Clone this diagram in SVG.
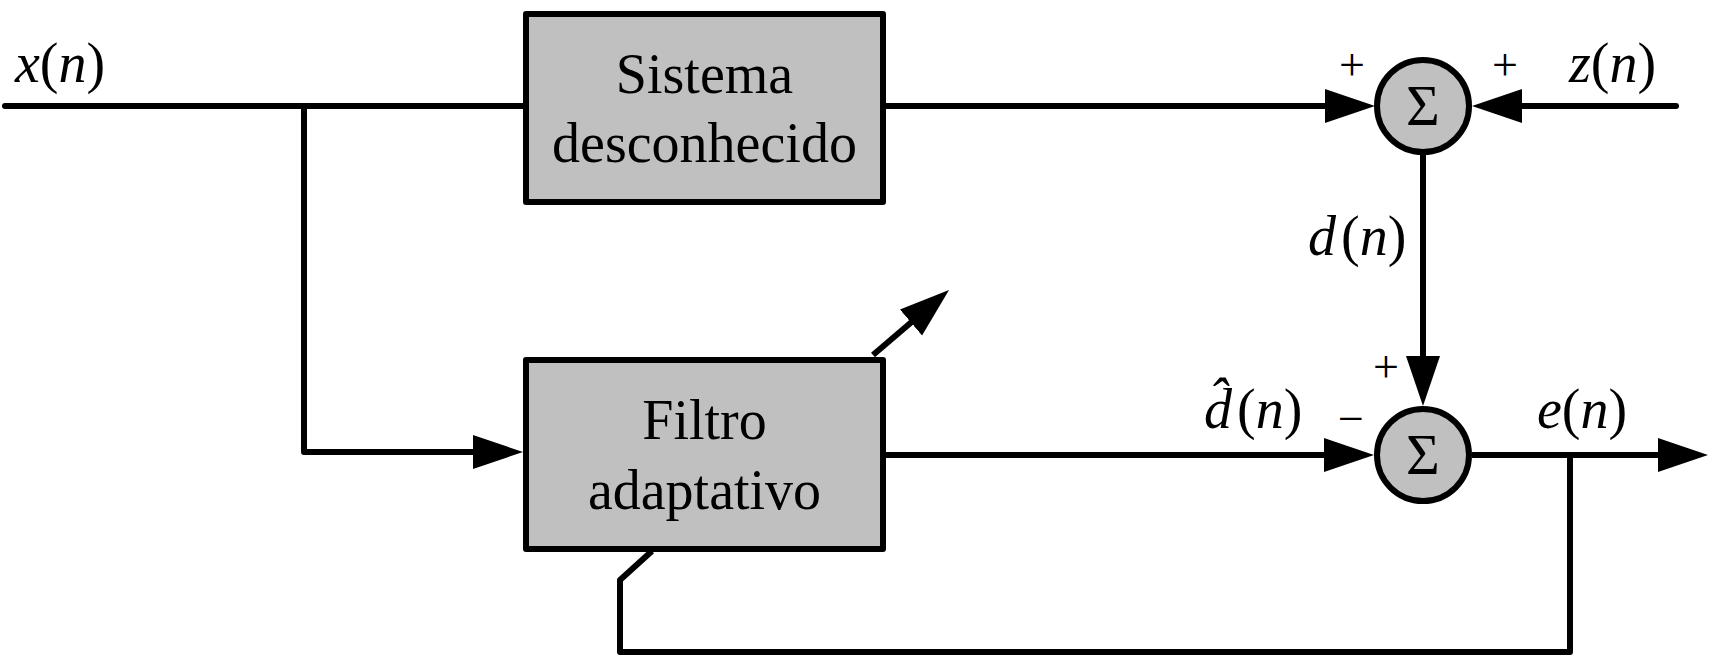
<svg xmlns="http://www.w3.org/2000/svg" width="1714" height="666" viewBox="0 0 1714 666">
<style>
.ln{fill:none;stroke:#000;stroke-width:6;stroke-linejoin:round;stroke-linecap:butt}
.blk{fill:#C0C0C0;stroke:#000;stroke-width:6;stroke-linejoin:round}
text{font-family:"Liberation Serif",serif;font-size:56px;fill:#000}
.s{font-size:58px}
.p{font-size:46px}
.i{font-style:italic}
</style>
<defs>
<marker id="ah" markerUnits="userSpaceOnUse" markerWidth="60" markerHeight="40" viewBox="0 0 60 40" refX="5" refY="20" orient="auto">
<path d="M0,3 L50,20 L0,37 z" fill="#000"/>
</marker>
</defs>
<g id="connectors">
<path class="ln" style="stroke-linecap:round" d="M5,106 H526"/>
<path class="ln" d="M304,106 V452 H478" marker-end="url(#ah)"/>
<path class="ln" d="M883,106 H1330" marker-end="url(#ah)"/>
<path class="ln" style="stroke-linecap:round" d="M1676,106 H1517" marker-end="url(#ah)"/>
<path class="ln" d="M1423,155 V361" marker-end="url(#ah)"/>
<path class="ln" d="M883,455 H1329" marker-end="url(#ah)"/>
<path class="ln" d="M1472,455 H1663" marker-end="url(#ah)"/>
<path class="ln" d="M1570,455 V652 H620 V580 L652,551"/>
<path class="ln" d="M873,355 L914.8,319.3" marker-end="url(#ah)"/>
</g>
<g id="sistema">
<rect class="blk" x="526" y="14" width="357" height="188"/>
<text x="704.5" y="93" text-anchor="middle">Sistema</text>
<text x="704.5" y="162" text-anchor="middle">desconhecido</text>
</g>
<g id="filtro">
<rect class="blk" x="526" y="360" width="357" height="189"/>
<text x="704.5" y="439" text-anchor="middle">Filtro</text>
<text x="704.5" y="509" text-anchor="middle">adaptativo</text>
</g>
<g id="sum1">
<circle class="blk" cx="1423" cy="106" r="46"/>
<text class="s" x="1423" y="125" text-anchor="middle">Σ</text>
</g>
<g id="sum2">
<circle class="blk" cx="1423" cy="455" r="46"/>
<text class="s" x="1423" y="474" text-anchor="middle">Σ</text>
</g>
<g id="labels">
<text x="15" y="82"><tspan class="i">x</tspan>(<tspan class="i">n</tspan>)</text>
<text x="1569" y="82"><tspan class="i">z</tspan>(<tspan class="i">n</tspan>)</text>
<text x="1308" y="255"><tspan class="i">d</tspan><tspan dx="5">(</tspan><tspan class="i">n</tspan>)</text>
<text x="1204" y="428"><tspan class="i">d̂</tspan><tspan dx="5">(</tspan><tspan class="i">n</tspan>)</text>
<text x="1537" y="428"><tspan class="i">e</tspan>(<tspan class="i">n</tspan>)</text>
<text class="p" x="1352" y="80" text-anchor="middle">+</text>
<text class="p" x="1505" y="80" text-anchor="middle">+</text>
<text class="p" x="1386" y="382" text-anchor="middle">+</text>
<text class="p" x="1351" y="434" text-anchor="middle">−</text>
</g>
</svg>
